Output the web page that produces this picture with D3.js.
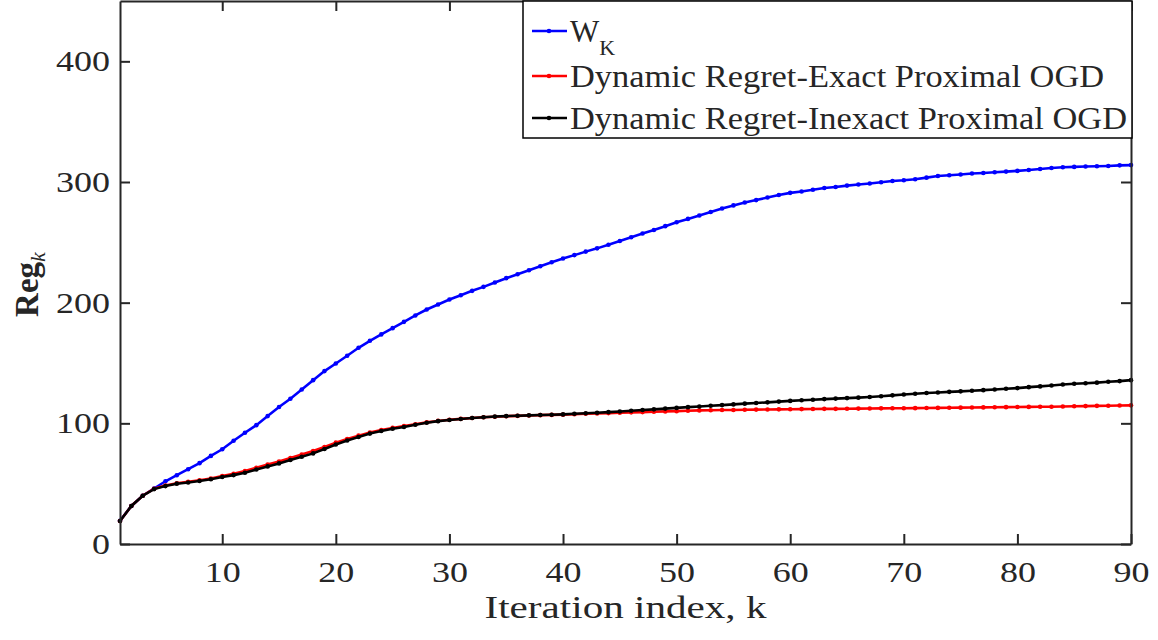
<!DOCTYPE html>
<html>
<head>
<meta charset="utf-8">
<script src="https://cdn.jsdelivr.net/npm/d3@7"></script>
<style>
  body { margin: 0; background: #fff; }
  svg text { font-family: "Liberation Serif"; fill: #262626; }
</style>
</head>
<body>
<svg id="chart" width="1158" height="640"></svg>
<script>
// iteration index k = 1..90
const iters = d3.range(1, 91);

// W_K (blue)
const wK = [19.3, 31.5, 40, 46, 52, 57, 62, 67, 73, 78.5,
  85.6, 92.2, 98.5, 106, 113.5, 120.4, 128, 135.8, 143.3, 149.6,
  156, 162.6, 168.4, 173.7, 178.9, 184.1, 189.4, 194.3, 198.5, 202.6,
  206.2, 209.8, 213.1, 216.7, 220.3, 223.6, 226.9, 230.2, 233.5, 236.6,
  239.4, 242.3, 245, 248, 251.1, 254.2, 257.3, 260.2, 263.4, 266.6,
  269.4, 272.2, 275.2, 278, 280.6, 283, 285, 287.1, 289.2, 291,
  292.1, 293.6, 295, 295.9, 297, 297.9, 298.7, 299.8, 300.8, 301.4,
  302.3, 303.6, 305, 305.6, 306.2, 307, 307.5, 308.1, 308.6, 309.2,
  310, 310.8, 311.6, 312.2, 312.5, 312.8, 313, 313.3, 313.8, 314];

// dynamic regret, exact proximal OGD (red)
const regExact = [19, 31.5, 40, 45.8, 48.5, 50.3, 51.5, 52.8, 54.3, 56.3,
  58.2, 60.4, 63.2, 65.8, 68.4, 71.3, 74.1, 77, 80.4, 84,
  87, 89.8, 92.4, 94.4, 96.2, 97.7, 99.2, 100.8, 102, 103,
  103.7, 104.4, 105, 105.5, 105.9, 106.2, 106.5, 106.8, 107, 107.2,
  107.5, 107.9, 108.2, 108.5, 108.8, 109.1, 109.3, 109.6, 109.9, 110.1,
  110.4, 110.7, 110.9, 111, 111.1, 111.2, 111.4, 111.5, 111.6, 111.7,
  111.8, 111.9, 112, 112, 112.1, 112.2, 112.3, 112.4, 112.5, 112.5,
  112.6, 112.7, 112.8, 112.9, 113, 113.1, 113.2, 113.3, 113.4, 113.5,
  113.6, 113.7, 113.8, 114, 114.2, 114.3, 114.5, 114.6, 114.8, 114.9];

// dynamic regret, inexact proximal OGD (black)
const regInexact = [19, 31.5, 40, 45.5, 48, 50, 51, 52.2, 53.6, 55.5,
  57.1, 59, 61.8, 64.3, 66.8, 69.6, 72.3, 75.1, 78.7, 82.4,
  85.8, 88.7, 91.5, 93.7, 95.5, 97, 98.8, 100.5, 101.8, 102.8,
  103.6, 104.4, 105, 105.6, 106, 106.3, 106.6, 106.9, 107.1, 107.4,
  107.9, 108.4, 108.8, 109.3, 109.8, 110.4, 111, 111.6, 112.2, 112.8,
  113.4, 114, 114.6, 115.1, 115.7, 116.3, 116.8, 117.4, 118, 118.6,
  119.1, 119.6, 120.1, 120.5, 120.9, 121.3, 121.8, 122.5, 123.2, 123.9,
  124.5, 125.1, 125.6, 126.1, 126.5, 127, 127.5, 128.1, 128.6, 129.2,
  130, 130.6, 131.4, 132.2, 132.8, 133.2, 133.7, 134.4, 135, 135.8];

const xTicks = [10, 20, 30, 40, 50, 60, 70, 80, 90];
const yTicks = [0, 100, 200, 300, 400];

const seriesNames = ["W", "Dynamic Regret-Exact Proximal OGD", "Dynamic Regret-Inexact Proximal OGD"];
const seriesColors = ["#0000ff", "#ff0000", "#000000"];

const svg = d3.select("#chart");
const margin = {left: 120, right: 27, top: 1, bottom: 96};
const W = 1158, H = 640;

const x = d3.scaleLinear().domain([1, 90]).range([margin.left, W - margin.right]);
const y = d3.scaleLinear().domain([0, 450]).range([H - margin.bottom, margin.top]);

const axisColor = "#262626";

// the reference text is wider than Liberation Serif, so widen the glyphs a bit
const stretch = (sel, k) => sel.each(function() {
  const w = this.getComputedTextLength();
  d3.select(this).attr("textLength", w * k).attr("lengthAdjust", "spacingAndGlyphs");
});

// series
const series = [wK, regExact, regInexact];
const line = d3.line().x((d, i) => x(iters[i])).y(d => y(d));

series.forEach((vals, s) => {
  const g = svg.append("g");
  g.append("path")
    .datum(vals)
    .attr("d", line)
    .attr("fill", "none")
    .attr("stroke", seriesColors[s])
    .attr("stroke-width", 2.6);
  g.selectAll("circle")
    .data(vals)
    .enter()
    .append("circle")
    .attr("cx", (d, i) => x(iters[i]))
    .attr("cy", d => y(d))
    .attr("r", 2.3)
    .attr("fill", seriesColors[s]);
});

// axes (ticks pointing inward, box all round)
const gx = svg.append("g")
  .attr("transform", `translate(0,${y(0)})`)
  .call(d3.axisBottom(x).tickValues(xTicks).tickSizeInner(-10).tickSizeOuter(0).tickPadding(17));
const gy = svg.append("g")
  .attr("transform", `translate(${x(1)},0)`)
  .call(d3.axisLeft(y).tickValues(yTicks).tickSizeInner(-10).tickSizeOuter(0).tickPadding(10));
const gr = svg.append("g")
  .attr("transform", `translate(${x(90)},0)`)
  .call(d3.axisRight(y).tickValues(yTicks).tickSizeInner(-10).tickSizeOuter(0).tickFormat(""));
const gt = svg.append("g")
  .attr("transform", `translate(0,${y(450)})`)
  .call(d3.axisTop(x).tickValues(xTicks).tickSizeInner(-10).tickSizeOuter(0).tickFormat(""));

[gx, gy, gr, gt].forEach(g => {
  g.attr("font-family", null);
  g.selectAll("path.domain").attr("stroke", axisColor).attr("stroke-width", 2);
  g.selectAll(".tick line").attr("stroke", axisColor).attr("stroke-width", 2);
  g.selectAll(".tick text")
    .style("font-family", "Liberation Serif")
    .style("font-size", "30px")
    .attr("fill", axisColor);
});
stretch(gx.selectAll(".tick text"), 1.2);
stretch(gy.selectAll(".tick text"), 1.2);

// axis labels
const xlab = svg.append("text")
  .attr("x", (x(1) + x(90)) / 2)
  .attr("y", 618)
  .attr("text-anchor", "middle")
  .style("font-size", "31px")
  .text("Iteration index, k");
xlab.attr("textLength", 282).attr("lengthAdjust", "spacingAndGlyphs");

const ylab = svg.append("text")
  .attr("transform", `translate(38,${y(215)}) rotate(-90)`)
  .attr("text-anchor", "middle")
  .style("font-size", "33px");
ylab.append("tspan").style("font-weight", "bold").text("Reg");
ylab.append("tspan").attr("dy", 7).style("font-style", "italic").style("font-size", "22px").text("k");

// legend
const legX = 523, legY = 1, legW = 609, legH = 137;
const leg = svg.append("g");
leg.append("rect")
  .attr("x", legX).attr("y", legY)
  .attr("width", legW).attr("height", legH)
  .attr("fill", "#fff")
  .attr("stroke", "#000")
  .attr("stroke-width", 1.5);

const rowY = [31, 76, 118];
const legTexts = [];
seriesNames.forEach((name, i) => {
  leg.append("line")
    .attr("x1", legX + 9).attr("x2", legX + 44)
    .attr("y1", rowY[i]).attr("y2", rowY[i])
    .attr("stroke", seriesColors[i]).attr("stroke-width", 2.6);
  leg.append("circle")
    .attr("cx", legX + 26).attr("cy", rowY[i]).attr("r", 2.3)
    .attr("fill", seriesColors[i]);
  const t = leg.append("text")
    .attr("x", legX + 47)
    .attr("y", rowY[i] + 11)
    .style("font-size", "31px")
    .attr("fill", "#000")
    .text(name);
  if (i === 0) {
    t.append("tspan").attr("dy", 13).style("font-size", "22px").text("K");
  } else {
    legTexts.push(t);
  }
});
// longest entry spans from the sample line to the right edge of the box
const k = 557 / legTexts[1].node().getComputedTextLength();
legTexts.forEach(t => stretch(t, k));
</script>
</body>
</html>
